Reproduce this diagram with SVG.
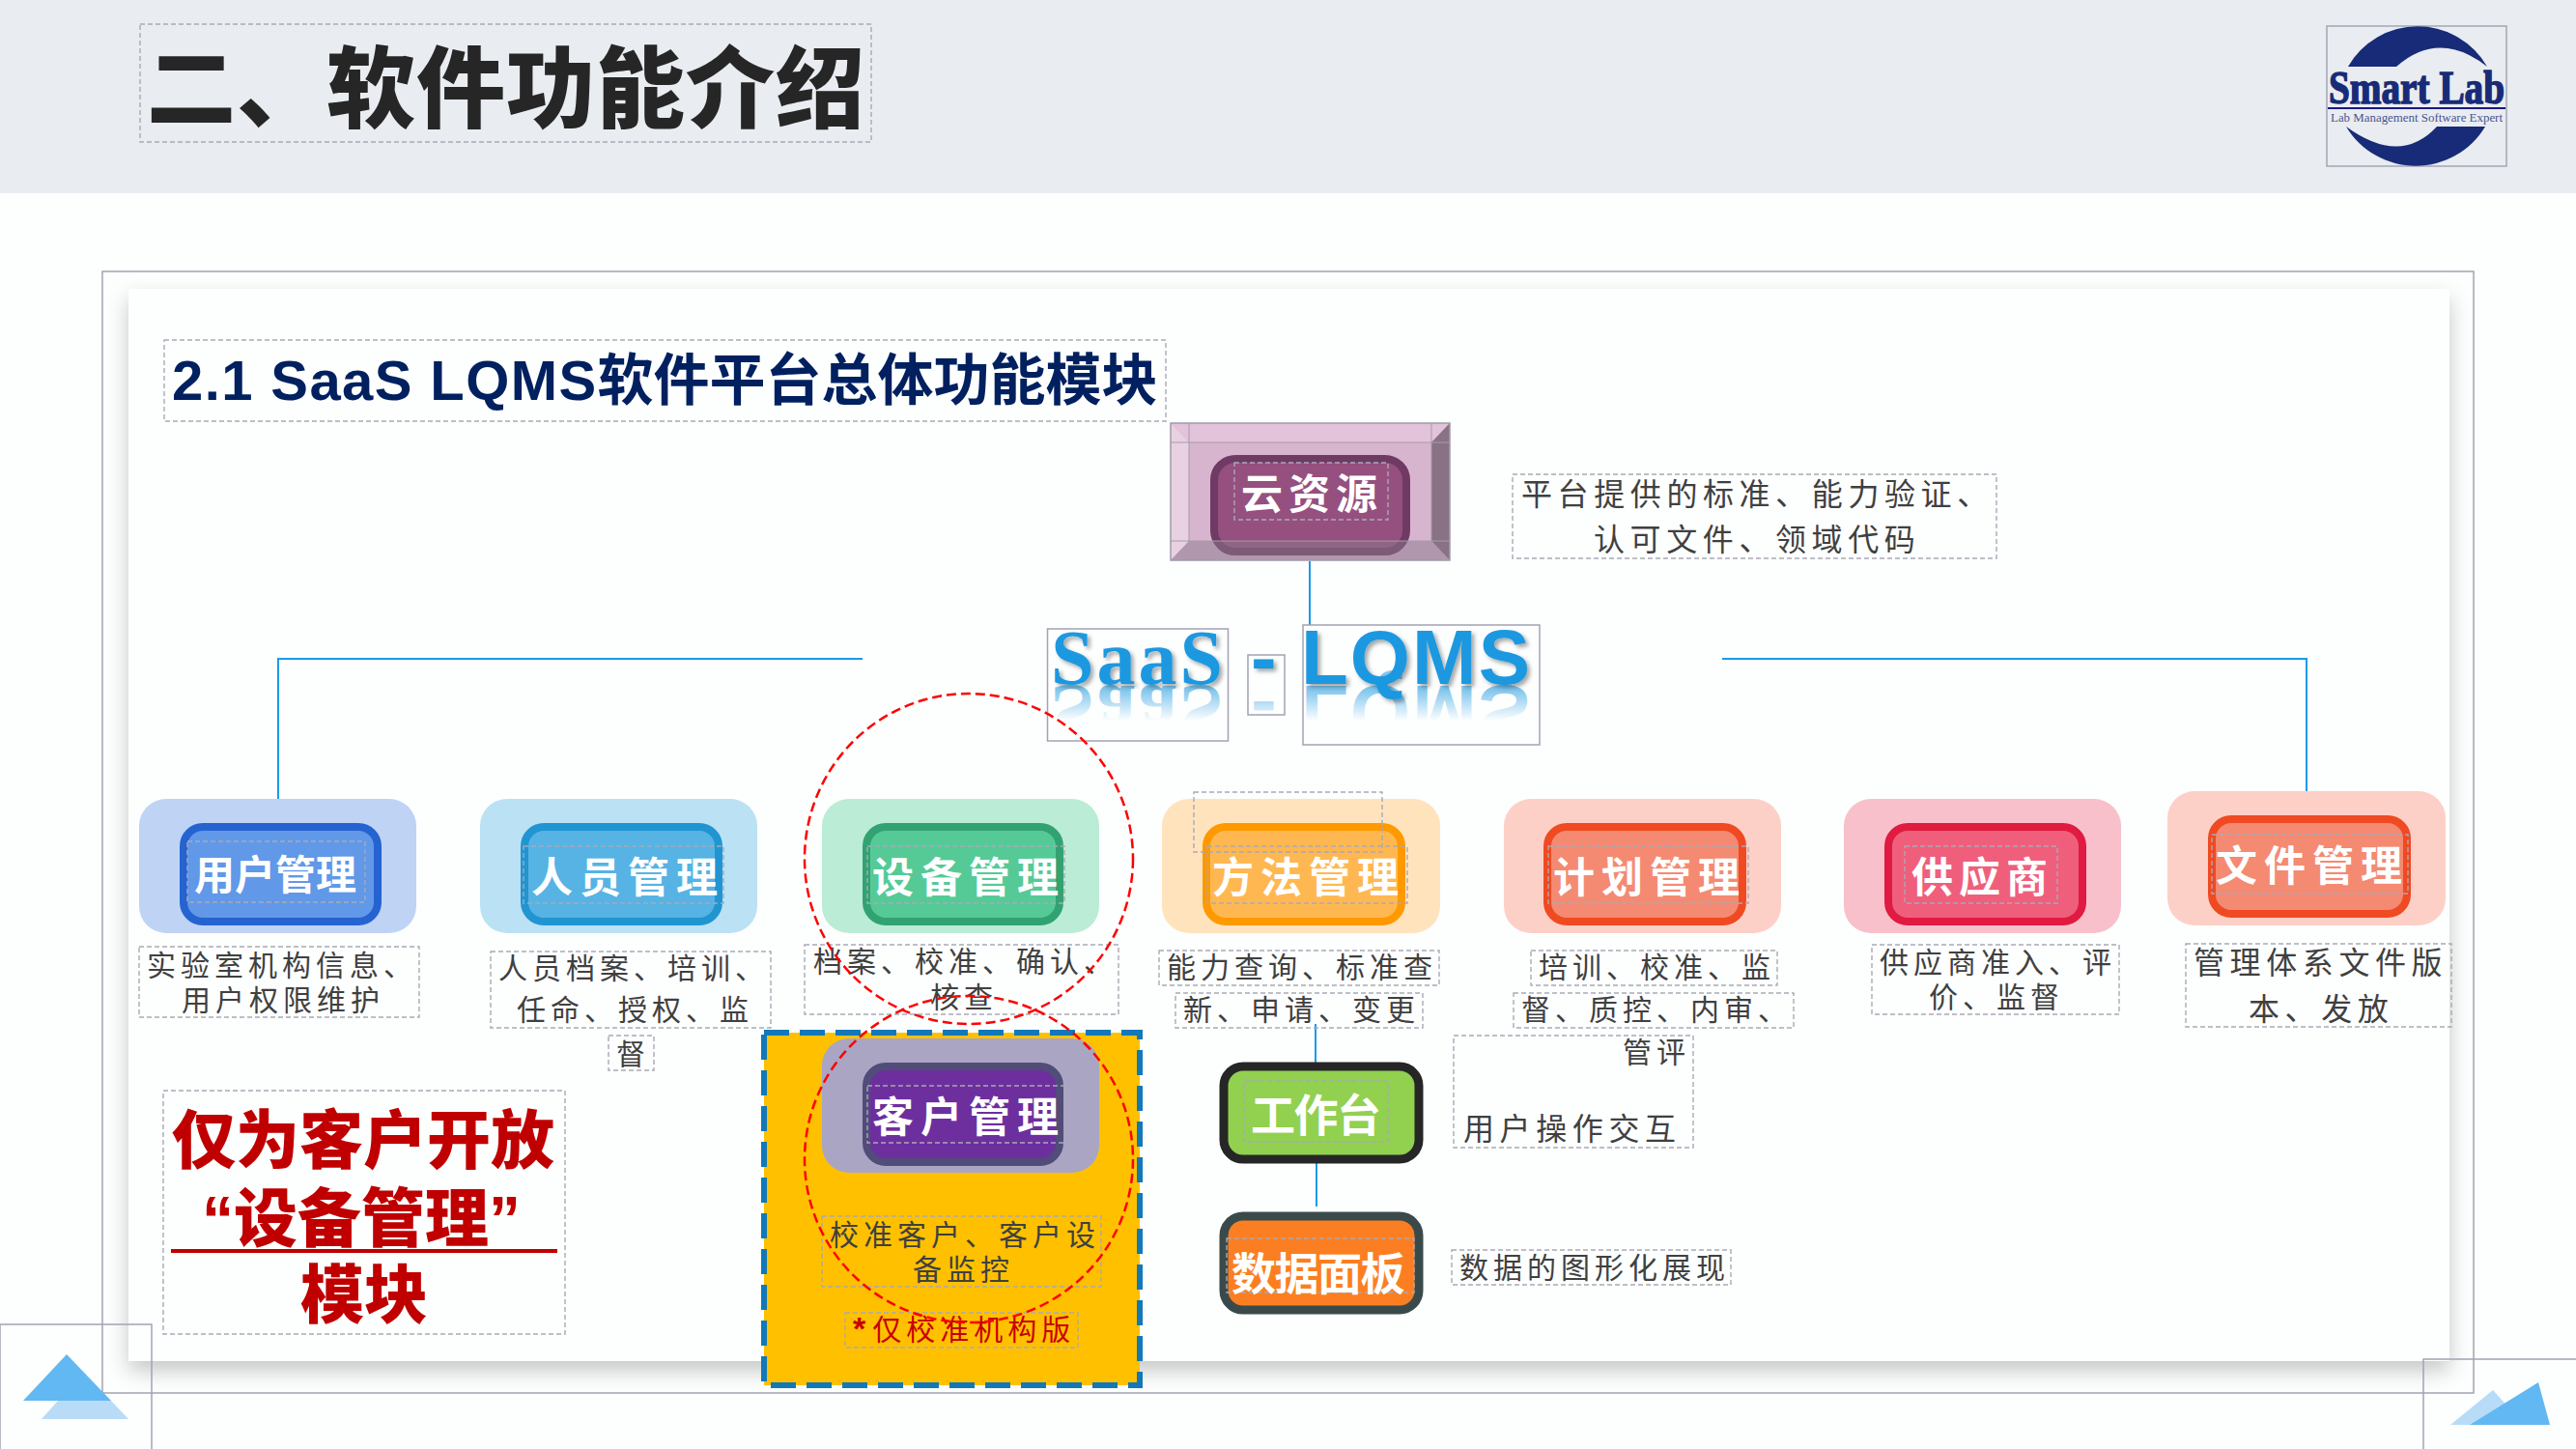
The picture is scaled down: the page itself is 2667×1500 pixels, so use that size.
<svg xmlns="http://www.w3.org/2000/svg" width="2667" height="1500" viewBox="0 0 2667 1500">
<style>
text{font-family:"Liberation Sans","Noto Sans CJK SC",sans-serif}
.b{fill:none;stroke:#a9a9b6;stroke-width:1.4;stroke-dasharray:5 3}
.f{fill:none;stroke:#a3a3b3;stroke-width:1.5}
.n{fill:#fff;font-weight:700;font-size:43px}
.d{fill:#404040;font-size:30px;letter-spacing:5px}
.c{fill:none;stroke:#1b9ae8;stroke-width:2}
.e{fill:none;stroke:#f00;stroke-width:2.5;stroke-dasharray:10 5}
.r{fill:#c00000;font-weight:900;font-size:66px}
.t{font-size:80px;font-weight:700;letter-spacing:2px}
.ser{font-family:"Liberation Serif",serif;letter-spacing:3px}
.big{font-size:32px;letter-spacing:5.6px}
</style>
<defs>
<filter id="ps" x="-5%" y="-5%" width="110%" height="110%"><feDropShadow dx="0" dy="10" stdDeviation="11" flood-color="#000" flood-opacity=".22"/></filter>
<filter id="ts" x="-10%" y="-10%" width="120%" height="120%"><feDropShadow dx="3" dy="3" stdDeviation="2" flood-color="#000" flood-opacity=".35"/></filter>
<linearGradient id="rg" gradientUnits="userSpaceOnUse" x1="0" y1="704" x2="0" y2="672"><stop offset="0" stop-color="#1b98e0" stop-opacity=".55"/><stop offset="1" stop-color="#1b98e0" stop-opacity="0"/></linearGradient>
</defs>
<rect width="2667" height="1500" fill="#fdfefe"/>
<rect id="header" width="2667" height="200" fill="#e9ecf0"/>
<g id="heading">
<rect class="b" x="145" y="25" width="757" height="122"/>
<text x="152" y="125" font-size="92" font-weight="900" letter-spacing="1" fill="#262626">二、软件功能介绍</text>
</g>
<g id="logo">
<rect x="2409" y="27" width="186" height="145" fill="none" stroke="#a3a7b5" stroke-width="1.5"/>
<path d="M2431 69A83 83 0 0 1 2575 69Q2525 30 2481 69Z" fill="#172b78"/>
<path d="M2429 131Q2485 172 2523 131H2573A84 84 0 0 1 2429 131Z" fill="#172b78"/>
<text x="2411" y="107" font-size="48" font-weight="700" fill="#172b78" stroke="#172b78" stroke-width="1.5" textLength="182" lengthAdjust="spacingAndGlyphs" style="font-family:'Liberation Serif',serif">Smart Lab</text>
<rect x="2410" y="111" width="184" height="2" fill="#1a1a80"/>
<text x="2413" y="126" font-size="13" fill="#4a5590" textLength="178" lengthAdjust="spacingAndGlyphs" style="font-family:'Liberation Serif',serif">Lab Management Software Expert</text>
</g>
<rect id="panel" x="133" y="299" width="2403" height="1110" fill="#fdfefe" filter="url(#ps)"/>
<rect id="frame" class="f" x="106" y="281" width="2455" height="1161"/>
<g id="corners">
<rect class="f" x="0" y="1371" width="157" height="140"/>
<path d="M60 1450L43 1469H133L115 1450Z" fill="#b8dcf7"/>
<path d="M69 1402L24 1450H115Z" fill="#62b8f2"/>
<rect class="f" x="2509" y="1407" width="170" height="110"/>
<path d="M2537 1475L2581 1439L2600 1460L2590 1475Z" fill="#b8dcf7"/>
<path d="M2557 1475L2628 1431L2640 1475Z" fill="#62b8f2"/>
</g>
<g id="section-title">
<rect class="b" x="170" y="352" width="1037" height="84"/>
<text x="178" y="414" font-size="58" font-weight="700" fill="#00205f"><tspan letter-spacing="1.4">2.1 SaaS LQMS</tspan><tspan>软件平台总体功能模块</tspan></text>
</g>
<g id="connectors">
<path class="c" d="M1356 581V647"/>
<path class="c" d="M893 682H288V827"/>
<path class="c" d="M1783 682H2388V819"/>
<path class="c" d="M1362 1060V1100"/>
<path class="c" d="M1363 1200V1249"/>
</g>
<g id="node-cloud">
<rect x="1212" y="438" width="289" height="142" fill="#d8b5cf"/>
<path d="M1212 438H1501L1482 458H1231Z" fill="#e2c3d9"/>
<path d="M1212 438L1231 458V560L1212 580Z" fill="#e8d2e2"/>
<path d="M1501 438L1482 458V560L1501 580Z" fill="#8a7285"/>
<rect x="1257" y="475" width="199" height="96" rx="22" fill="#95507f" stroke="#6f3a64" stroke-width="8"/>
<path d="M1212 580L1231 560H1482L1501 580Z" fill="#8a7a8c" fill-opacity=".5"/>
<path d="M1212 458H1501M1212 560H1501M1231 438V580M1482 438V580" fill="none" stroke="#a59bab" stroke-width="1"/>
<rect x="1212" y="438" width="289" height="142" fill="none" stroke="#a09aa8" stroke-width="1.5"/>
<rect class="b" x="1278" y="479" width="159" height="59"/>
<text class="n" x="1285" y="527" letter-spacing="6">云资源</text>
</g>
<g id="desc-cloud">
<rect class="b" x="1566" y="491" width="501" height="87"/>
<text class="d big" x="1575" y="523">平台提供的标准、能力验证、</text>
<text class="d big" x="1650" y="570">认可文件、领域代码</text>
</g>
<g id="brand">
<rect class="f" x="1084.500" y="651" width="187" height="116"/>
<rect class="f" x="1292" y="678" width="38" height="62"/>
<rect class="f" x="1349" y="647" width="245" height="124"/>
<g fill="url(#rg)">
<text class="t ser" transform="translate(0 1418) scale(1 -1)" x="1088" y="708">SaaS</text>
<text class="t" transform="translate(0 1418) scale(1 -1)" x="1295" y="708">-</text>
<text class="t" transform="translate(0 1418) scale(1 -1)" x="1347" y="708">LQMS</text>
</g>
<g fill="#1b98e0" filter="url(#ts)">
<text class="t ser" x="1088" y="708">SaaS</text>
<text class="t" x="1295" y="708">-</text>
<text class="t" x="1347" y="708">LQMS</text>
</g>
</g>
<g id="node-user">
<rect x="144" y="827" width="287" height="139" rx="28" fill="#bfd3f5"/>
<rect x="190" y="856" width="201" height="98" rx="20" fill="#6198e8" stroke="#2563d0" stroke-width="8"/>
<rect class="b" x="194" y="871" width="184" height="63"/>
<text class="n" x="201" y="921" style="font-size:42px">用户管理</text>
<rect class="b" x="144" y="980" width="290" height="73"/>
<text class="d" x="152" y="1010">实验室机构信息、</text>
<text class="d" x="188" y="1046">用户权限维护</text>
</g>
<g id="node-staff">
<rect x="497" y="827" width="287" height="139" rx="28" fill="#bbe1f5"/>
<rect x="543" y="856" width="201" height="98" rx="20" fill="#56b3e4" stroke="#2095d2" stroke-width="8"/>
<rect class="b" x="542" y="876" width="207" height="59"/>
<text class="n" x="550" y="924" letter-spacing="7">人员管理</text>
<rect class="b" x="508" y="985" width="290" height="79"/>
<text class="d" x="516" y="1013">人员档案、培训、</text>
<text class="d" x="535" y="1056">任命、授权、监</text>
<rect class="b" x="630" y="1072" width="47" height="36"/>
<text class="d" x="638" y="1102">督</text>
</g>
<g id="yellow-zone">
<rect x="791" y="1069" width="389" height="365" fill="#ffc000" stroke="#1278b8" stroke-width="6" stroke-dasharray="26 11"/>
</g>
<g id="node-equipment">
<rect x="851" y="827" width="287" height="139" rx="28" fill="#bbecd5"/>
<rect x="897" y="856" width="200" height="98" rx="20" fill="#55ca96" stroke="#32a272" stroke-width="8"/>
<rect class="b" x="898" y="876" width="204" height="59"/>
<text class="n" x="903" y="924" letter-spacing="7">设备管理</text>
<rect class="b" x="833" y="978" width="325" height="72"/>
<text class="d" x="842" y="1006">档案、校准、确认、</text>
<text class="d" x="963" y="1043">核查</text>
</g>
<g id="node-customer">
<rect x="851" y="1075" width="287" height="139" rx="28" fill="#a9a5c3"/>
<rect x="897" y="1104" width="200" height="99" rx="20" fill="#6d2f9e" stroke="#514c7a" stroke-width="8"/>
<rect class="b" x="898" y="1124" width="204" height="59"/>
<text class="n" x="903" y="1172" letter-spacing="7">客户管理</text>
<rect class="b" x="851" y="1259" width="289" height="73"/>
<text class="d" x="859" y="1289">校准客户、客户设</text>
<text class="d" x="945" y="1325">备监控</text>
<rect class="b" x="875" y="1359" width="241" height="36"/>
<text class="d" x="883" y="1387" style="fill:#c80000"><tspan font-weight="700" font-size="34">*</tspan><tspan dx="2">仅校准机构版</tspan></text>
</g>
<g id="note-red">
<rect class="b" x="169" y="1129" width="416" height="252"/>
<text class="r" x="178" y="1204">仅为客户开放</text>
<text class="r" x="209" y="1285">“设备管理”</text>
<rect x="177" y="1293" width="400" height="4" fill="#c00000"/>
<text class="r" x="311" y="1364">模块</text>
</g>
<g id="node-method">
<rect x="1203" y="827" width="288" height="139" rx="28" fill="#ffe3bd"/>
<rect x="1249" y="856" width="202" height="98" rx="20" fill="#ffb851" stroke="#ff9900" stroke-width="8"/>
<rect class="b" x="1236" y="820" width="195" height="62"/>
<rect class="b" x="1250" y="876" width="207" height="59"/>
<text class="n" x="1255" y="924" letter-spacing="7">方法管理</text>
<rect class="b" x="1200" y="984" width="290" height="36"/>
<text class="d" x="1208" y="1012">能力查询、标准查</text>
<rect class="b" x="1217" y="1028" width="256" height="36"/>
<text class="d" x="1225" y="1056">新、申请、变更</text>
</g>
<g id="node-plan">
<rect x="1557" y="827" width="287" height="139" rx="28" fill="#fdd0c7"/>
<rect x="1602" y="856" width="202" height="98" rx="20" fill="#f48a72" stroke="#ef4a22" stroke-width="8"/>
<rect class="b" x="1603" y="876" width="207" height="59"/>
<text class="n" x="1608" y="924" letter-spacing="7">计划管理</text>
<rect class="b" x="1585" y="984" width="255" height="36"/>
<text class="d" x="1593" y="1012">培训、校准、监</text>
<rect class="b" x="1567" y="1028" width="290" height="36"/>
<text class="d" x="1575" y="1056">督、质控、内审、</text>
<rect class="b" x="1505" y="1072" width="248" height="116"/>
<text class="d" x="1680" y="1100">管评</text>
<text class="d big" x="1515" y="1180">用户操作交互</text>
</g>
<g id="node-supplier">
<rect x="1909" y="827" width="287" height="139" rx="28" fill="#f8c0cb"/>
<rect x="1955" y="856" width="201" height="98" rx="20" fill="#ef5f7c" stroke="#e01a40" stroke-width="8"/>
<rect class="b" x="1972" y="876" width="158" height="59"/>
<text class="n" x="1979" y="924" letter-spacing="6">供应商</text>
<rect class="b" x="1938" y="978" width="256" height="72"/>
<text class="d" x="1946" y="1007">供应商准入、评</text>
<text class="d" x="1997" y="1043">价、监督</text>
</g>
<g id="node-doc">
<rect x="2244" y="819" width="288" height="139" rx="28" fill="#fdd0c7"/>
<rect x="2290" y="848" width="202" height="98" rx="20" fill="#f48a72" stroke="#ef4a22" stroke-width="8"/>
<rect class="b" x="2290" y="864" width="203" height="61"/>
<text class="n" x="2294" y="912" letter-spacing="7">文件管理</text>
<rect class="b" x="2263" y="977" width="275" height="86"/>
<text class="d big" x="2271" y="1008">管理体系文件版</text>
<text class="d big" x="2328" y="1056">本、发放</text>
</g>
<g id="node-workbench">
<rect x="1267" y="1104" width="202" height="96" rx="20" fill="#92d050" stroke="#262626" stroke-width="9"/>
<rect class="b" x="1288" y="1119" width="149" height="63"/>
<text class="n" x="1295" y="1171" letter-spacing="-1.500" style="font-size:46px">工作台</text>
</g>
<g id="node-dashboard">
<rect x="1267" y="1259" width="202" height="97" rx="20" fill="#fb7f22" stroke="#3a4a4a" stroke-width="9"/>
<rect class="b" x="1270" y="1282" width="194" height="56"/>
<text class="n" x="1275" y="1335" letter-spacing="-1.500" style="font-size:46px">数据面板</text>
<rect class="b" x="1503" y="1294" width="289" height="36"/>
<text class="d" x="1511" y="1323">数据的图形化展现</text>
</g>
<g id="highlights">
<ellipse class="e" cx="1003" cy="889" rx="170" ry="171"/>
<ellipse class="e" cx="1003" cy="1200" rx="170" ry="169"/>
</g>
</svg>
